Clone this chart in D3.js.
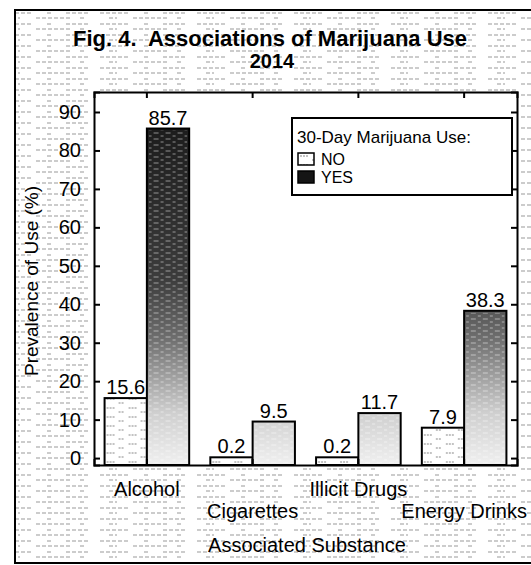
<!DOCTYPE html>
<html>
<head>
<meta charset="utf-8">
<script src="https://cdn.jsdelivr.net/npm/d3@7"></script>
<style>
  body { margin: 0; background: #fff; }
  text { font-family: "Liberation Sans", Arial, sans-serif; fill: #000; }
</style>
</head>
<body>
<svg id="chart" width="531" height="565"></svg>
<script>
// values
const categories = ["Alcohol", "Cigarettes", "Illicit Drugs", "Energy Drinks"];
const noValues = [15.6, 0.2, 0.2, 7.9];
const yesValues = [85.7, 9.5, 11.7, 38.3];
const seriesNames = ["NO", "YES"];
const yTicks = [0, 10, 20, 30, 40, 50, 60, 70, 80, 90];

const svg = d3.select("#chart");
const frame = { left: 94, right: 517, top: 92, bottom: 465 };

const defs = svg.append("defs");

// halftone-ish scan texture for the page background
const scan = defs.append("pattern")
    .attr("id", "scan")
    .attr("patternUnits", "userSpaceOnUse")
    .attr("width", 97).attr("height", 11);
scan.append("rect").attr("width", 97).attr("height", 11).attr("fill", "#fff");
scan.append("path")
    .attr("d", "M3,2H31M47,2H53M66,2H90M12,7H20M36,7H70M80,7H84")
    .attr("stroke", "#9a9a9a")
    .attr("stroke-width", 1)
    .attr("stroke-dasharray", "4,2");

// light speckle for the NO bars
const light = defs.append("pattern")
    .attr("id", "light")
    .attr("patternUnits", "userSpaceOnUse")
    .attr("width", 22).attr("height", 9);
light.append("rect").attr("width", 22).attr("height", 9).attr("fill", "#fff");
light.append("path")
    .attr("d", "M2,3H10M14,7H19")
    .attr("stroke", "#888")
    .attr("stroke-width", 1)
    .attr("stroke-dasharray", "2,1");

// YES bars: dark at the top of the plot fading to light at the bottom
const grad = defs.append("linearGradient")
    .attr("id", "dark")
    .attr("gradientUnits", "userSpaceOnUse")
    .attr("x1", 0).attr("x2", 0)
    .attr("y1", frame.top).attr("y2", frame.bottom);
grad.append("stop").attr("offset", 0).attr("stop-color", "#151515");
grad.append("stop").attr("offset", 0.5).attr("stop-color", "#3c3c3c");
grad.append("stop").attr("offset", 0.66).attr("stop-color", "#6e6e6e");
grad.append("stop").attr("offset", 0.86).attr("stop-color", "#cfcfcf");
grad.append("stop").attr("offset", 1).attr("stop-color", "#f0f0f0");

const dots = defs.append("pattern")
    .attr("id", "dots")
    .attr("patternUnits", "userSpaceOnUse")
    .attr("width", 12).attr("height", 6);
dots.append("path")
    .attr("d", "M1,1H6M8,4H11")
    .attr("stroke", "#fff")
    .attr("stroke-opacity", 0.5)
    .attr("stroke-width", 1);

// page and outer border
svg.append("rect")
    .attr("x", 15).attr("y", 10)
    .attr("width", 530).attr("height", 553)
    .attr("fill", "url(#scan)")
    .attr("stroke", "#000").attr("stroke-width", 2);

// title
svg.append("text")
    .attr("x", 270).attr("y", 46)
    .attr("text-anchor", "middle")
    .attr("xml:space", "preserve")
    .style("white-space", "pre")
    .style("font-size", "22px").style("font-weight", "bold")
    .text("Fig. 4.  Associations of Marijuana Use");
svg.append("text")
    .attr("x", 272).attr("y", 68)
    .attr("text-anchor", "middle")
    .style("font-size", "20px").style("font-weight", "bold")
    .text("2014");

// scales
const x = d3.scaleBand()
    .domain(categories)
    .range([frame.left, frame.right])
    .paddingInner(0.2)
    .paddingOuter(0.1);
const xSub = d3.scaleBand()
    .domain(seriesNames)
    .range([0, x.bandwidth()]);
const y = d3.scaleLinear()
    .domain([-1.8, 95.2])
    .range([frame.bottom, frame.top]);

// plot area
svg.append("rect")
    .attr("x", frame.left).attr("y", frame.top)
    .attr("width", frame.right - frame.left)
    .attr("height", frame.bottom - frame.top)
    .attr("fill", "#fff");

const rows = categories.map((c, i) => ({ cat: c, values: [noValues[i], yesValues[i]] }));

const groups = svg.append("g").selectAll("g")
    .data(rows)
    .enter().append("g")
    .attr("transform", d => `translate(${x(d.cat)},0)`);

const bars = groups.selectAll("g")
    .data(d => d.values.map((v, j) => ({ series: seriesNames[j], value: v })))
    .enter().append("g");

bars.append("rect")
    .attr("x", d => xSub(d.series))
    .attr("y", d => y(d.value))
    .attr("width", xSub.bandwidth())
    .attr("height", d => frame.bottom - y(d.value))
    .attr("fill", d => d.series === "NO" ? "url(#light)" : "url(#dark)")
    .attr("stroke", "#000")
    .attr("stroke-width", 2);

bars.filter(d => d.series === "YES").append("rect")
    .attr("x", d => xSub(d.series) + 2)
    .attr("y", d => y(d.value) + 2)
    .attr("width", xSub.bandwidth() - 4)
    .attr("height", d => Math.max(0, frame.bottom - y(d.value) - 4))
    .attr("fill", "url(#dots)");

bars.append("text")
    .attr("x", d => xSub(d.series) + xSub.bandwidth() / 2)
    .attr("y", d => y(d.value) - 4)
    .attr("text-anchor", "middle")
    .style("font-size", "20px")
    .text(d => d.value.toFixed(1));

// axes: ticks point inward on all four sides
const yAxisL = d3.axisLeft(y).tickValues(yTicks).tickSize(-6).tickPadding(13);
const yAxisR = d3.axisRight(y).tickValues(yTicks).tickSize(-6).tickFormat("");
const xAxisT = d3.axisTop(x).tickSize(-6).tickFormat("");
const xAxisB = d3.axisBottom(x).tickSize(-6).tickFormat("");

const gl = svg.append("g").attr("transform", `translate(${frame.left},0)`).call(yAxisL);
gl.selectAll("text").style("font-size", "20px").attr("fill", "#000");
svg.append("g").attr("transform", `translate(${frame.right},0)`).call(yAxisR);
svg.append("g").attr("transform", `translate(0,${frame.top})`).call(xAxisT);
svg.append("g").attr("transform", `translate(0,${frame.bottom})`).call(xAxisB);
svg.selectAll(".domain").attr("stroke-width", 2).attr("stroke", "#000");
svg.selectAll(".tick line").attr("stroke-width", 2).attr("stroke", "#000");

// category labels in two staggered rows
svg.append("g").selectAll("text")
    .data(categories)
    .enter().append("text")
    .attr("x", d => x(d) + x.bandwidth() / 2)
    .attr("y", (d, i) => i % 2 === 0 ? 496 : 518)
    .attr("text-anchor", "middle")
    .style("font-size", "20px")
    .text(d => d);

svg.append("text")
    .attr("x", 307).attr("y", 552)
    .attr("text-anchor", "middle")
    .style("font-size", "20px")
    .text("Associated Substance");

svg.append("text")
    .attr("transform", "translate(38,281) rotate(-90)")
    .attr("text-anchor", "middle")
    .style("font-size", "19px")
    .text("Prevalence of Use (%)");

// legend
const legend = svg.append("g");
legend.append("rect")
    .attr("x", 292).attr("y", 118)
    .attr("width", 220).attr("height", 77)
    .attr("fill", "#fff")
    .attr("stroke", "#000").attr("stroke-width", 2);
legend.append("text")
    .attr("x", 297).attr("y", 143)
    .style("font-size", "17px")
    .text("30-Day Marijuana Use:");
const items = legend.selectAll("g.item")
    .data(seriesNames)
    .enter().append("g")
    .attr("class", "item")
    .attr("transform", (d, i) => `translate(298,${153 + i * 18})`);
items.append("rect")
    .attr("width", 16).attr("height", 12)
    .attr("fill", d => d === "NO" ? "url(#light)" : "url(#dark)")
    .attr("stroke", "#000").attr("stroke-width", 1.5);
items.append("text")
    .attr("x", 23).attr("y", 12)
    .style("font-size", "16px")
    .text(d => d);
</script>
</body>
</html>
